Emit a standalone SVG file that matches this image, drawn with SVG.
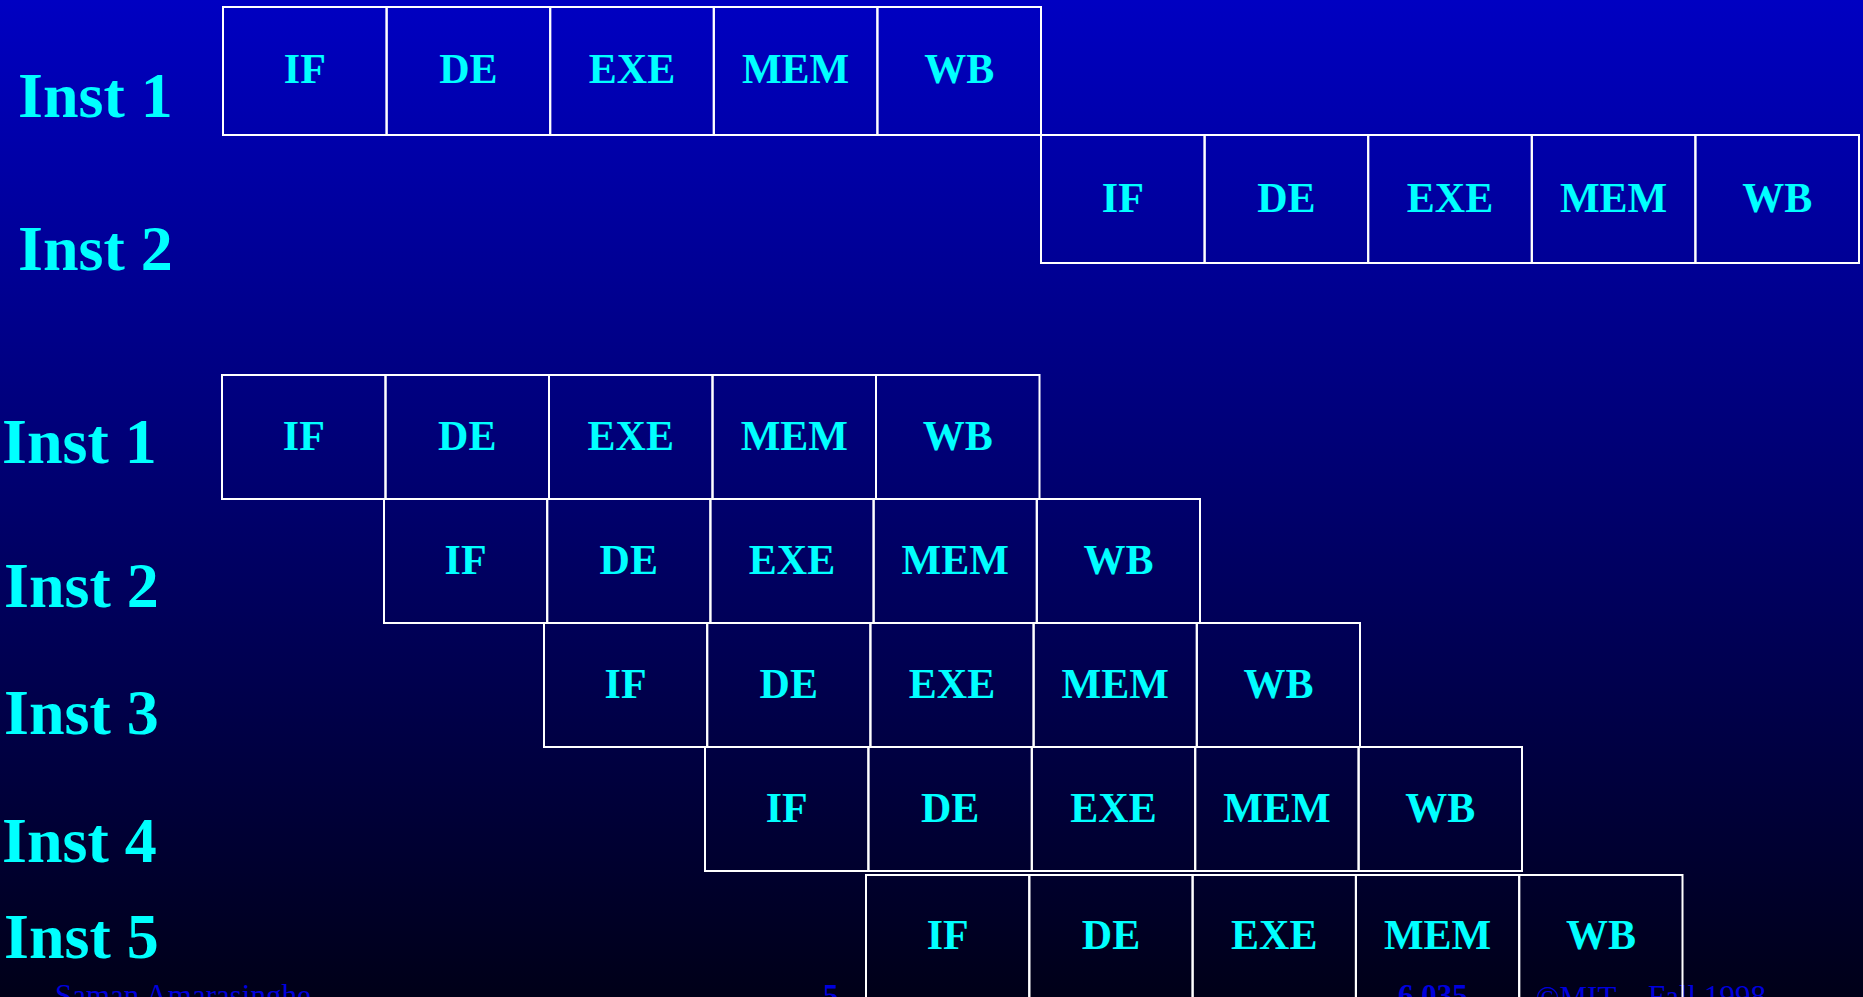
<svg xmlns="http://www.w3.org/2000/svg" width="1863" height="997" viewBox="0 0 1863 997">
<defs>
<linearGradient id="bg" x1="0" y1="0" x2="0" y2="1">
<stop offset="0" stop-color="#0000c2"/>
<stop offset="1" stop-color="#000018"/>
</linearGradient>
</defs>
<style>
.cell rect{fill:none;stroke:#ffffff;stroke-width:2}
.cell text{fill:#00ffff;font-family:"Liberation Serif","Times New Roman",serif;font-weight:bold;font-size:42px;text-anchor:middle}
.lbl{fill:#00ffff;font-family:"Liberation Serif","Times New Roman",serif;font-weight:bold;font-size:64px}
.ft{fill:#0000dd;font-family:"Liberation Serif","Times New Roman",serif;font-size:31px}
</style>
<rect x="0" y="0" width="1863" height="997" fill="url(#bg)"/>
<g id="footer">
<text class="ft" x="55" y="1006">Saman Amarasinghe</text>
<text class="ft" x="823" y="1006" font-weight="bold">5</text>
<text class="ft" x="1398" y="1006" font-weight="bold" font-size="40">6.035</text>
<text class="ft" x="1536" y="1008" font-family="Liberation Sans, Arial, sans-serif" font-size="43">©MIT</text>
<text class="ft" x="1648" y="1007">Fall 1998</text>
</g>
<g id="labels-top">
<text class="lbl" x="18" y="117">Inst 1</text>
<text class="lbl" x="18" y="270">Inst 2</text>
</g>
<g id="labels-bottom">
<text class="lbl" x="2" y="463">Inst 1</text>
<text class="lbl" x="4" y="607">Inst 2</text>
<text class="lbl" x="4" y="734">Inst 3</text>
<text class="lbl" x="2" y="862">Inst 4</text>
<text class="lbl" x="4" y="958">Inst 5</text>
</g>
<g id="top-inst1">
<g class="cell" id="t1-if"><rect x="223" y="7" width="163.6" height="128"/><text x="304.8" y="83">IF</text></g>
<g class="cell" id="t1-de"><rect x="386.6" y="7" width="163.6" height="128"/><text x="468.4" y="83">DE</text></g>
<g class="cell" id="t1-exe"><rect x="550.2" y="7" width="163.6" height="128"/><text x="632" y="83">EXE</text></g>
<g class="cell" id="t1-mem"><rect x="713.8" y="7" width="163.6" height="128"/><text x="795.6" y="83">MEM</text></g>
<g class="cell" id="t1-wb"><rect x="877.4" y="7" width="163.6" height="128"/><text x="959.2" y="83">WB</text></g>
</g>
<g id="top-inst2">
<g class="cell" id="t2-if"><rect x="1041" y="135" width="163.6" height="128"/><text x="1122.8" y="212">IF</text></g>
<g class="cell" id="t2-de"><rect x="1204.6" y="135" width="163.6" height="128"/><text x="1286.4" y="212">DE</text></g>
<g class="cell" id="t2-exe"><rect x="1368.2" y="135" width="163.6" height="128"/><text x="1450" y="212">EXE</text></g>
<g class="cell" id="t2-mem"><rect x="1531.8" y="135" width="163.6" height="128"/><text x="1613.6" y="212">MEM</text></g>
<g class="cell" id="t2-wb"><rect x="1695.4" y="135" width="163.6" height="128"/><text x="1777.2" y="212">WB</text></g>
</g>
<g id="pipe-inst1">
<g class="cell" id="p1-if"><rect x="222" y="375" width="163.5" height="124"/><text x="303.8" y="450">IF</text></g>
<g class="cell" id="p1-de"><rect x="385.5" y="375" width="163.5" height="124"/><text x="467.3" y="450">DE</text></g>
<g class="cell" id="p1-exe"><rect x="549" y="375" width="163.5" height="124"/><text x="630.8" y="450">EXE</text></g>
<g class="cell" id="p1-mem"><rect x="712.5" y="375" width="163.5" height="124"/><text x="794.3" y="450">MEM</text></g>
<g class="cell" id="p1-wb"><rect x="876" y="375" width="163.5" height="124"/><text x="957.8" y="450">WB</text></g>
</g>
<g id="pipe-inst2">
<g class="cell" id="p2-if"><rect x="384" y="499" width="163.2" height="124"/><text x="465.6" y="574">IF</text></g>
<g class="cell" id="p2-de"><rect x="547.2" y="499" width="163.2" height="124"/><text x="628.8" y="574">DE</text></g>
<g class="cell" id="p2-exe"><rect x="710.4" y="499" width="163.2" height="124"/><text x="792" y="574">EXE</text></g>
<g class="cell" id="p2-mem"><rect x="873.6" y="499" width="163.2" height="124"/><text x="955.2" y="574">MEM</text></g>
<g class="cell" id="p2-wb"><rect x="1036.8" y="499" width="163.2" height="124"/><text x="1118.4" y="574">WB</text></g>
</g>
<g id="pipe-inst3">
<g class="cell" id="p3-if"><rect x="544" y="623" width="163.2" height="124"/><text x="625.6" y="698">IF</text></g>
<g class="cell" id="p3-de"><rect x="707.2" y="623" width="163.2" height="124"/><text x="788.8" y="698">DE</text></g>
<g class="cell" id="p3-exe"><rect x="870.4" y="623" width="163.2" height="124"/><text x="952" y="698">EXE</text></g>
<g class="cell" id="p3-mem"><rect x="1033.6" y="623" width="163.2" height="124"/><text x="1115.2" y="698">MEM</text></g>
<g class="cell" id="p3-wb"><rect x="1196.8" y="623" width="163.2" height="124"/><text x="1278.4" y="698">WB</text></g>
</g>
<g id="pipe-inst4">
<g class="cell" id="p4-if"><rect x="705" y="747" width="163.4" height="124"/><text x="786.7" y="822">IF</text></g>
<g class="cell" id="p4-de"><rect x="868.4" y="747" width="163.4" height="124"/><text x="950.1" y="822">DE</text></g>
<g class="cell" id="p4-exe"><rect x="1031.8" y="747" width="163.4" height="124"/><text x="1113.5" y="822">EXE</text></g>
<g class="cell" id="p4-mem"><rect x="1195.2" y="747" width="163.4" height="124"/><text x="1276.9" y="822">MEM</text></g>
<g class="cell" id="p4-wb"><rect x="1358.6" y="747" width="163.4" height="124"/><text x="1440.3" y="822">WB</text></g>
</g>
<g id="pipe-inst5">
<g class="cell" id="p5-if"><rect x="866" y="875" width="163.3" height="124"/><text x="947.7" y="949">IF</text></g>
<g class="cell" id="p5-de"><rect x="1029.3" y="875" width="163.3" height="124"/><text x="1111" y="949">DE</text></g>
<g class="cell" id="p5-exe"><rect x="1192.6" y="875" width="163.3" height="124"/><text x="1274.3" y="949">EXE</text></g>
<g class="cell" id="p5-mem"><rect x="1355.9" y="875" width="163.3" height="124"/><text x="1437.6" y="949">MEM</text></g>
<g class="cell" id="p5-wb"><rect x="1519.2" y="875" width="163.3" height="124"/><text x="1600.9" y="949">WB</text></g>
</g>
</svg>
